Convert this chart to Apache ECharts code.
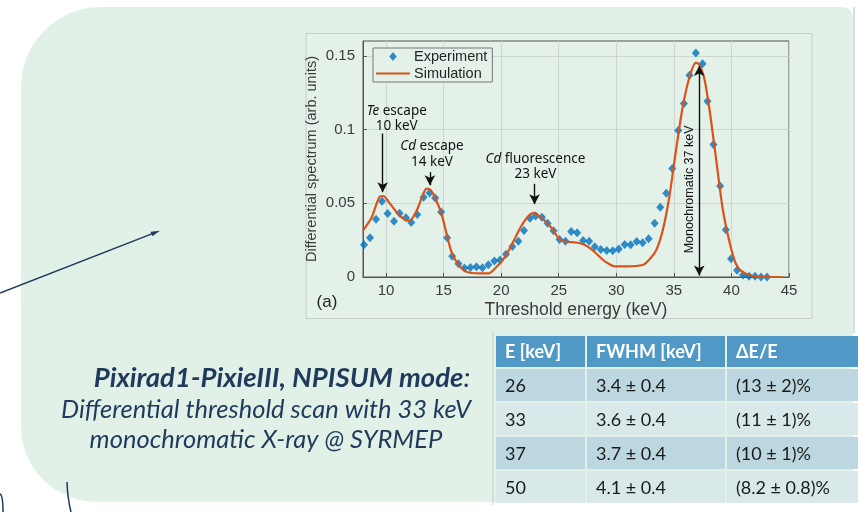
<!DOCTYPE html>
<html>
<head>
<meta charset="utf-8">
<script src="https://cdn.jsdelivr.net/npm/echarts@6.0.0/dist/echarts.min.js"></script>
<style>
html,body{margin:0;padding:0;background:#ffffff;}
#chart{width:858px;height:512px;}
</style>
</head>
<body>
<div id="chart"></div>
<script>
// ---------- data ----------
const expX = [8.09,8.61,9.13,9.65,10.14,10.69,11.18,11.73,12.19,12.71,13.26,13.78,14.27,14.79,15.31,15.75,16.29,16.81,17.33,17.85,18.37,18.89,19.41,19.90,20.42,20.97,21.49,21.98,22.50,22.99,23.54,24.03,24.55,25.07,25.59,26.08,26.60,27.12,27.64,28.13,28.65,29.17,29.69,30.21,30.73,31.25,31.77,32.29,32.81,33.33,33.82,34.34,34.86,35.38,35.87,36.36,36.91,37.49,37.92,38.44,39.02,39.51,39.97,40.49,41.01,41.53,42.05,42.57,43.09];
const expY = [0.0218,0.0266,0.0392,0.0514,0.0430,0.0378,0.0432,0.0401,0.0369,0.0423,0.0541,0.0570,0.0536,0.0441,0.0266,0.0140,0.0090,0.0061,0.0065,0.0070,0.0063,0.0083,0.0108,0.0115,0.0155,0.0207,0.0243,0.0315,0.0399,0.0414,0.0405,0.0365,0.0313,0.0255,0.0243,0.0309,0.0300,0.0248,0.0243,0.0205,0.0187,0.0180,0.0178,0.0189,0.0221,0.0218,0.0241,0.0232,0.0259,0.0365,0.0473,0.0568,0.0736,0.0993,0.1176,0.1367,0.1518,0.1446,0.1191,0.0899,0.0617,0.0320,0.0124,0.0045,0.0014,0.0005,0.0005,0.0,0.0];
const simX = [8.0,8.76,9.48,9.77,10.2,10.92,11.65,12.08,12.66,13.23,13.52,13.87,14.24,14.82,15.26,15.69,16.27,16.84,17.28,18.14,18.95,19.59,20.16,20.74,21.32,21.9,22.47,22.91,23.34,23.92,24.5,25.02,25.65,26.52,27.24,27.96,28.83,29.41,29.84,30.85,32.29,32.81,33.45,34.03,34.6,35.18,35.76,36.34,36.91,37.2,37.63,38.07,38.65,39.22,39.8,40.38,40.96,41.83,42.98,44.42];
const simY = [0.0315,0.0405,0.0547,0.0549,0.0513,0.0439,0.0387,0.0383,0.0450,0.0563,0.0599,0.0590,0.0541,0.0428,0.0293,0.0169,0.0086,0.0041,0.0029,0.0025,0.0025,0.0068,0.0117,0.0191,0.0282,0.0365,0.0421,0.0435,0.0412,0.0372,0.0320,0.0259,0.0239,0.0234,0.0218,0.0180,0.0117,0.0086,0.0072,0.0072,0.0081,0.0113,0.0180,0.0315,0.0541,0.0856,0.1149,0.1351,0.1453,0.1441,0.1351,0.1149,0.0811,0.0473,0.0248,0.0090,0.0034,0.0007,0,0];
const xTicks = [10,15,20,25,30,35,40,45];
const yTicks = [0,0.05,0.1,0.15];

// annotation arrows (data coords)
const arrowX = [9.71, 13.81, 22.9, 37.2];
const arrowY0 = [0.0973, 0.0711, 0.0632, 0.143];
const arrowY1 = [0.0575, 0.0622, 0.0494, 0.001];
const arrowDouble = [false, false, false, true];
// annotation labels (data coords)
const labelText = ['{i|Te} escape\n10 keV', '{i|Cd} escape\n14 keV', '{i|Cd} fluorescence\n23 keV'];
const labelX = [10.93, 13.99, 22.98];
const labelY = [0.1072, 0.0832, 0.0747];
const monoText = 'Monochromatic 37 keV';
const monoX = 36.34, monoY = 0.0594;

// table
const tableHeader = ['E [keV]', 'FWHM [keV]', '\u0394E/E'];
const tableE = ['26', '33', '37', '50'];
const tableFWHM = ['3.4 \u00b1 0.4', '3.6 \u00b1 0.4', '3.7 \u00b1 0.4', '4.1 \u00b1 0.4'];
const tableRes = ['(13 \u00b1 2)%', '(11 \u00b1 1)%', '(10 \u00b1 1)%', '(8.2 \u00b1 0.8)%'];

const captionBold = 'Pixirad1-PixieIII, NPISUM mode';
const captionLines = ['Differential threshold scan with 33 keV', 'monochromatic X-ray @ SYRMEP'];

// ---------- chart ----------
const chart = echarts.init(document.getElementById('chart'), null, {renderer: 'canvas'});
const axisColor = '#555555';
const labelColor = '#3a3a3a';
const chartFont = 'Liberation Sans, Arial, sans-serif';

const markData = arrowX.map((x, i) => [
  {coord: [x, arrowY0[i]], symbol: arrowDouble[i] ? 'arrow' : 'none'},
  {coord: [x, arrowY1[i]], symbol: 'arrow'}
]);

const option = {
  animation: false,
  backgroundColor: '#ffffff',
  grid: {
    left: 363, top: 41, right: 69, bottom: 235,
    show: true, backgroundColor: '#e3f1e9', borderColor: axisColor, borderWidth: 1
  },
  legend: {
    orient: 'vertical', left: 373, top: 48,
    padding: [1, 5, 1, 3], itemGap: 2, itemWidth: 34, itemHeight: 14,
    backgroundColor: '#e3f1e9', borderColor: '#777777', borderWidth: 1,
    textStyle: {fontFamily: chartFont, fontSize: 14.5, color: '#262626', padding: [0, 0, 0, -1]},
    data: [
      {name: 'Experiment', icon: 'path://M-17,0L-17,0M17,0L17,0M0,-4.5L3.8,0L0,4.5L-3.8,0Z', itemStyle: {color: '#0072bd'}},
      {name: 'Simulation', icon: 'path://M-17,-1.1L17,-1.1L17,1.1L-17,1.1Z', itemStyle: {color: '#d95319'}}
    ]
  },
  xAxis: {
    type: 'value', min: 8, max: 45,
    name: 'Threshold energy (keV)', nameLocation: 'middle', nameGap: 24,
    nameTextStyle: {fontFamily: chartFont, fontSize: 17.5, color: labelColor},
    axisLine: {show: true, lineStyle: {color: axisColor}},
    axisTick: {show: true, inside: true, length: 4, lineStyle: {color: axisColor}, customValues: xTicks},
    axisLabel: {fontFamily: chartFont, fontSize: 15, color: labelColor, margin: 6, customValues: xTicks},
    splitLine: {show: true, lineStyle: {color: '#cdd6d1', width: 1}}
  },
  yAxis: {
    type: 'value', min: 0, max: 0.16,
    name: 'Differential spectrum (arb. units)', nameLocation: 'middle', nameGap: 44,
    nameTextStyle: {fontFamily: chartFont, fontSize: 14.5, color: labelColor},
    axisLine: {show: true, lineStyle: {color: axisColor}},
    axisTick: {show: true, inside: true, length: 4, lineStyle: {color: axisColor}, customValues: yTicks},
    axisLabel: {fontFamily: chartFont, fontSize: 15, color: labelColor, margin: 8, customValues: yTicks},
    splitLine: {show: true, lineStyle: {color: '#cdd6d1', width: 1}}
  },
  series: [
    {
      name: 'Simulation', type: 'line', symbol: 'none', smooth: 0.25,
      data: simX.map((x, i) => [x, simY[i]]),
      lineStyle: {color: '#d95319', width: 2.2},
      itemStyle: {color: '#d95319'},
      z: 3
    },
    {
      name: 'Experiment', type: 'scatter', symbol: 'diamond', symbolSize: [8, 9],
      data: expX.map((x, i) => [x, expY[i]]),
      itemStyle: {color: '#0072bd'},
      z: 2,
      markLine: {
        silent: true, animation: false,
        symbolSize: [8, 10],
        lineStyle: {color: '#111111', width: 1.4, type: 'solid'},
        label: {show: false},
        data: markData
      }
    }
  ]
};
chart.setOption(option);

// ---------- slide graphics ----------
const navy = '#1f3a5a';
const slideFont = 'Lato, "Open Sans", sans-serif';
const els = [];
els.push({type: 'rect', z: -20, shape: {x: 21, y: 7, width: 832, height: 495, r: [80, 10, 10, 76]}, style: {fill: '#e2f1e8'}});
els.push({type: 'line', z: -19, shape: {x1: 854, y1: 7, x2: 854, y2: 333}, style: {stroke: '#b3bab6', lineWidth: 1}});
els.push({type: 'rect', z: -18, shape: {x: 306, y: 33.5, width: 506, height: 285}, style: {fill: '#e3f1e9', stroke: '#c3ccc7', lineWidth: 1}});
els.push({type: 'text', z: 10, style: {x: 327, y: 302, text: '(a)', font: '17px ' + chartFont, fill: '#222222', align: 'center', verticalAlign: 'middle'}});
els.push({type: 'line', z: 10, shape: {x1: 0, y1: 293, x2: 155, y2: 232.6}, style: {stroke: navy, lineWidth: 1.5}});
els.push({type: 'polygon', z: 10, shape: {points: [[160, 230.7], [152.3, 236.2], [150.6, 231.8]]}, style: {fill: navy}});
els.push({type: 'bezierCurve', z: 10, shape: {x1: 0, y1: 494, cpx1: 3, cpy1: 495, x2: 3, y2: 512}, style: {stroke: navy, lineWidth: 1.5, fill: null}});
els.push({type: 'bezierCurve', z: 10, shape: {x1: 67, y1: 482, cpx1: 67.5, cpy1: 498, x2: 71, y2: 512}, style: {stroke: navy, lineWidth: 1.5, fill: null}});
els.push({type: 'text', z: 10, style: {x: 282, y: 378, text: '{b|' + captionBold + '}{r|:}', align: 'center', verticalAlign: 'middle',
  rich: {b: {font: 'italic bold 27.5px ' + slideFont, fill: navy}, r: {font: 'italic 27.5px ' + slideFont, fill: navy}}}});
captionLines.forEach((t, i) => {
  els.push({type: 'text', z: 10, style: {x: 266, y: 410 + i * 30, text: t, font: 'italic 25.5px ' + slideFont, fill: navy, align: 'center', verticalAlign: 'middle'}});
});
const colX = [496, 587, 727];
const colW = [89, 138, 135];
const rowY = [336, 369, 403, 437, 471];
const rowH = [31, 32, 32, 32, 32];
const rowFill = ['#5098c6', '#bcd7df', '#d9e9ea', '#bcd7df', '#d9e9ea'];
els.push({type: 'line', z: -5, shape: {x1: 493, y1: 331, x2: 493, y2: 505}, style: {stroke: '#c5ccc8', lineWidth: 1}});
const rows = [tableHeader].concat(tableE.map((e, i) => [e, tableFWHM[i], tableRes[i]]));
rows.forEach((row, r) => {
  row.forEach((cell, c) => {
    els.push({type: 'rect', z: -4, shape: {x: colX[c], y: rowY[r], width: colW[c], height: rowH[r]}, style: {fill: rowFill[r]}});
    els.push({type: 'text', z: 10, style: {x: colX[c] + 9, y: rowY[r] + rowH[r] / 2 + 1, text: cell,
      font: (r === 0 ? 'bold ' : '') + '18px ' + slideFont, fill: r === 0 ? '#ffffff' : '#1a1a1a', align: 'left', verticalAlign: 'middle'}});
  });
});
const annFamily = '"Noto Sans", "Open Sans", sans-serif';
labelText.forEach((t, i) => {
  const p = chart.convertToPixel({gridIndex: 0}, [labelX[i], labelY[i]]);
  els.push({type: 'text', z: 20, style: {x: p[0], y: p[1], text: t, font: '13.5px ' + annFamily, fill: '#111111', align: 'center', verticalAlign: 'middle', lineHeight: 15.5,
    rich: {i: {font: 'italic 13.5px ' + annFamily, fill: '#111111', lineHeight: 15.5}}}});
});
const mp = chart.convertToPixel({gridIndex: 0}, [monoX, monoY]);
els.push({type: 'text', z: 20, x: mp[0], y: mp[1], rotation: Math.PI / 2, style: {x: 0, y: 0, text: monoText, font: '12.5px ' + chartFont, fill: '#111111', align: 'center', verticalAlign: 'middle'}});

chart.setOption({graphic: {elements: els}});
</script>
</body>
</html>
